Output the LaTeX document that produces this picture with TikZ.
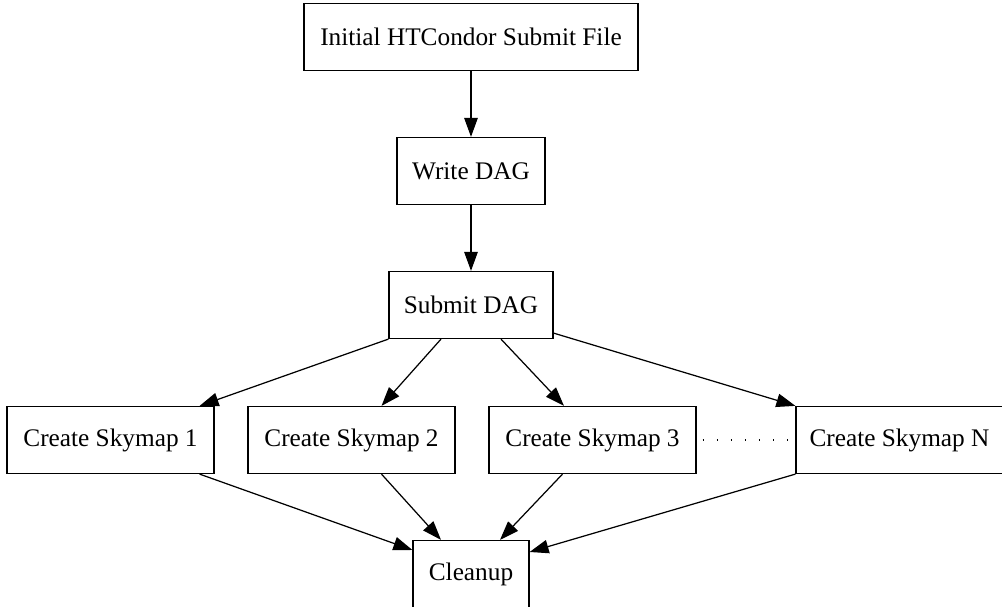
\documentclass[tikz,border=0pt]{standalone}
\usepackage{fontspec}
\setmainfont{Liberation Serif}
\usepackage{tikz}
\usetikzlibrary{arrows.meta, positioning}

\tikzset{
    stepbox/.style={rectangle, draw, line width=0.7pt, minimum height=1.34cm, inner sep=0pt, font=\fontsize{14.4}{17}\selectfont},
    flow/.style={line width=0.7pt, -{Triangle[length=0.38cm, width=0.27cm]}}
}

\begin{document}
\begin{tikzpicture}[x=0.02cm, y=-0.02cm]
        \useasboundingbox (0,0) rectangle (1002,607);
        % Top of the chain
        \node[stepbox, minimum width=6.68cm] (initial) at (471,37) {Initial HTCondor Submit File};
        \node[stepbox, minimum width=2.96cm] (write) at (471,171) {Write DAG};
        \node[stepbox, minimum width=3.28cm] (submit) at (471,305) {Submit DAG};
        % Skymap jobs
        \node[stepbox, minimum width=4.14cm] (sky1) at (110.5,440) {Create Skymap 1};
        \node[stepbox, minimum width=4.14cm] (sky2) at (351.5,440) {Create Skymap 2};
        \node[stepbox, minimum width=4.14cm] (sky3) at (592.5,440) {Create Skymap 3};
        \node[stepbox, minimum width=4.14cm] (skyN) at (899.5,440) {Create Skymap N};
        % Final job
        \node[stepbox, minimum width=2.32cm] (cleanup) at (471,574) {Cleanup};

        % Connecting lines
        \draw[flow] (initial) -- (write);
        \draw[flow] (write) -- (submit);
        \draw[flow] (submit.south west) -- ([xshift=-0.3cm]sky1.north east);
        \draw[flow] ([xshift=-0.6cm]submit.south) -- ([xshift=0.6cm]sky2.north);
        \draw[flow] ([xshift=0.6cm]submit.south) -- ([xshift=-0.57cm]sky3.north);
        \draw[flow] ([yshift=0.12cm]submit.south east) -- (skyN.north west);
        \draw[line width=0.8pt, dash pattern=on 0.8pt off 7.2pt, dash phase=-3.5pt] (sky3) -- (skyN);
        \draw[flow] ([xshift=-0.3cm]sky1.south east) -- ([yshift=0.48cm]cleanup.west);
        \draw[flow] ([xshift=0.6cm]sky2.south) -- ([xshift=-0.6cm]cleanup.north);
        \draw[flow] ([xshift=-0.6cm]sky3.south) -- ([xshift=0.58cm]cleanup.north);
        \draw[flow] (skyN.south west) -- ([yshift=0.44cm]cleanup.east);
    \end{tikzpicture}
\end{document}
